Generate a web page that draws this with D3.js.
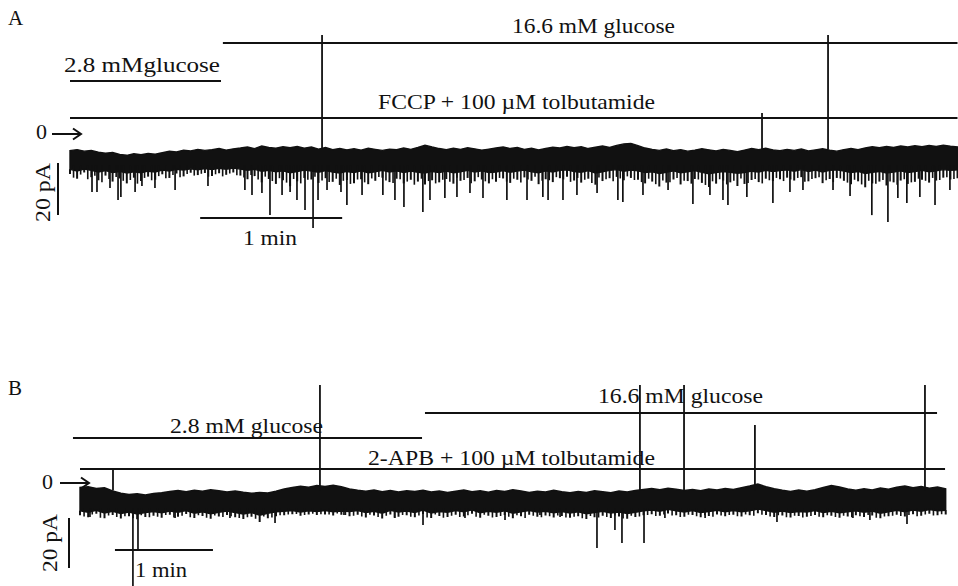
<!DOCTYPE html>
<html>
<head>
<meta charset="utf-8">
<script src="https://cdn.jsdelivr.net/npm/d3@7"></script>
<style>
  html, body { margin: 0; padding: 0; background: #fff; }
  svg { display: block; }
</style>
</head>
<body>
<svg id="fig" width="958" height="586"></svg>
<script>
// ---- Recording A: FCCP + 100 µM tolbutamide (sampled every 3 s) ----
const stepA = 3;
// upper edge of the current band (pA)
const topA = [
  -6.4,-6.0,-6.6,-6.3,-7.0,-7.4,-7.1,-7.9,-8.2,-7.6,
  -8.0,-7.5,-7.8,-7.2,-6.6,-6.9,-6.2,-6.5,-5.9,-6.3,
  -6.0,-5.6,-6.2,-5.7,-5.4,-5.0,-5.6,-4.6,-5.2,-5.5,
  -4.9,-5.3,-4.8,-5.5,-5.0,-5.8,-5.2,-6.0,-5.6,-6.1,
  -5.7,-6.2,-5.5,-5.9,-6.3,-5.8,-6.0,-5.4,-5.9,-5.2,
  -4.3,-5.0,-5.6,-6.0,-5.5,-5.9,-5.3,-5.7,-6.2,-5.8,
  -5.4,-5.0,-5.6,-5.2,-5.9,-5.5,-6.1,-5.6,-5.1,-5.4,
  -4.8,-5.3,-4.9,-5.6,-5.1,-4.6,-5.2,-4.4,-3.8,-3.6,
  -4.5,-5.4,-5.9,-6.3,-5.8,-6.4,-6.0,-6.6,-6.2,-5.7,
  -6.1,-6.5,-5.9,-6.3,-6.8,-6.2,-5.6,-6.0,-5.5,-6.1,
  -6.4,-5.9,-6.3,-5.8,-6.5,-6.1,-5.7,-6.2,-6.6,-6.0,
  -5.6,-6.0,-5.4,-4.9,-5.3,-4.8,-5.2,-4.6,-5.0,-4.5,
  -4.9,-4.4,-4.8,-4.3,-4.7,-5.0
];
// lower edge of the solid core of the band (pA)
const coreA = [
  -13.6,-14.2,-13.5,-14.0,-14.6,-14.1,-14.8,-14.4,-15.0,-14.5,
  -14.9,-14.3,-14.6,-13.9,-14.2,-13.6,-13.9,-13.4,-13.8,-13.3,
  -13.7,-13.2,-13.6,-13.1,-13.5,-14.0,-13.6,-14.3,-14.0,-14.5,
  -14.2,-14.9,-14.4,-13.9,-14.3,-14.7,-14.1,-14.6,-15.0,-14.4,
  -14.8,-14.2,-14.9,-14.5,-14.0,-14.6,-14.2,-14.8,-14.3,-14.7,
  -15.0,-14.4,-14.8,-14.3,-14.9,-14.5,-14.0,-14.6,-14.2,-14.8,
  -14.6,-14.1,-14.7,-14.3,-13.9,-14.5,-14.9,-14.2,-14.6,-14.0,
  -13.8,-14.4,-14.7,-14.1,-15.0,-14.5,-14.0,-13.7,-14.3,-13.9,
  -14.2,-14.8,-14.5,-15.2,-14.7,-14.2,-14.9,-14.5,-14.1,-14.7,
  -15.3,-14.8,-14.4,-14.7,-15.1,-14.8,-14.3,-14.6,-14.0,-14.4,
  -14.1,-13.8,-14.3,-13.7,-14.4,-13.9,-14.6,-14.0,-13.8,-14.3,
  -14.8,-14.4,-15.2,-14.7,-14.4,-15.0,-14.6,-14.2,-14.8,-14.4,
  -14.0,-14.5,-14.2,-13.7,-14.0,-13.8
];
// depth of the brief openings at each sample (pA)
const botA = [
  -15.4,-17.2,-14.8,-16.6,-17.8,-16.0,-18.3,-17.1,-19.0,-16.8,
  -18.1,-16.4,-17.6,-15.5,-16.9,-15.2,-16.3,-14.9,-15.8,-15.0,
  -16.2,-15.1,-15.7,-14.8,-16.0,-17.4,-16.2,-18.6,-17.3,-19.2,
  -17.8,-20.1,-18.2,-16.9,-17.5,-18.8,-17.0,-18.4,-19.6,-17.7,
  -18.9,-17.4,-19.3,-18.0,-16.8,-18.5,-17.2,-19.0,-17.6,-18.3,
  -19.4,-17.8,-18.6,-17.3,-19.1,-18.0,-16.9,-18.2,-17.5,-19.0,
  -18.4,-17.1,-18.8,-17.6,-16.7,-18.0,-19.3,-17.4,-18.5,-17.0,
  -16.4,-17.9,-18.7,-17.2,-19.5,-18.1,-17.0,-16.5,-17.8,-16.9,
  -17.6,-19.0,-18.3,-20.2,-18.7,-17.5,-19.4,-18.1,-17.3,-18.8,
  -20.4,-19.1,-17.9,-18.6,-20.0,-19.2,-17.7,-18.5,-17.2,-18.1,
  -17.4,-16.8,-17.9,-16.6,-18.2,-17.0,-18.9,-17.3,-16.9,-18.0,
  -19.3,-18.2,-20.5,-19.0,-18.3,-19.8,-18.6,-17.9,-19.2,-18.4,
  -17.6,-18.7,-17.9,-16.8,-17.5,-17.0
];
// depth of the openings half-way between samples (pA)
const midA = [
  -16.8,-15.6,-17.4,-16.1,-18.6,-17.3,-16.5,-18.0,-17.7,-19.1,
  -16.9,-17.8,-16.2,-17.0,-15.8,-16.6,-15.4,-16.0,-15.3,-16.4,
  -15.5,-16.3,-15.2,-15.9,-16.7,-15.8,-17.5,-16.4,-18.1,-17.0,
  -18.7,-17.3,-19.0,-17.6,-16.4,-17.9,-18.5,-17.2,-18.0,-19.2,
  -17.5,-18.6,-17.1,-16.5,-17.9,-18.8,-17.4,-18.3,-19.5,-17.2,
  -18.1,-19.0,-17.6,-18.4,-16.8,-17.7,-18.9,-16.6,-18.2,-17.4,
  -16.9,-18.3,-17.2,-18.7,-17.5,-16.4,-18.0,-17.8,-16.6,-17.5,
  -18.4,-16.9,-17.6,-18.8,-16.7,-17.4,-18.2,-17.1,-16.3,-17.7,
  -18.5,-17.2,-19.3,-17.9,-18.6,-16.9,-18.0,-19.1,-17.5,-19.6,
  -18.2,-17.4,-19.4,-18.0,-17.1,-18.8,-17.3,-19.0,-17.8,-16.9,
  -18.1,-17.5,-16.9,-18.4,-17.3,-16.6,-17.8,-18.5,-17.1,-18.7,
  -17.6,-19.4,-18.0,-19.1,-17.7,-18.3,-19.5,-17.4,-18.6,-17.2,
  -18.0,-16.9,-17.7,-16.6,-17.3
];
// larger openings reaching below the band: [time s, current pA]
const spikesA = [
  [9.3,-22.3],[11.4,-22.3],[16.9,-20.8],[20.3,-25.4],[21.5,-24.2],[27.5,-22.3],
  [30.4,-20.0],[35.9,-20.8],[44.4,-21.5],[58.3,-20.0],[73.9,-21.5],[76.9,-23.5],
  [81.1,-22.7],[84.5,-31.2],[89.6,-23.5],[93.0,-22.3],[95.9,-25.4],[99.3,-29.2],
  [102.7,-36.2],[104.8,-25.4],[108.6,-21.5],[114.5,-22.3],[117.0,-27.3],[123.4,-23.5],
  [132.2,-23.5],[137.3,-25.4],[141.1,-28.1],[149.1,-30.0],[152.1,-25.4],[158.4,-24.6],
  [163.5,-24.2],[169.0,-22.7],[174.5,-24.6],[184.6,-25.4],[193.1,-25.4],[199.8,-24.2],
  [202.0,-25.4],[208.3,-25.4],[214.2,-23.5],[222.7,-22.7],[231.5,-25.4],[233.6,-26.2],
  [242.1,-23.5],[252.7,-21.5],[263.2,-26.9],[270.4,-23.5],[275.9,-25.4],[278.0,-27.3],
  [286.0,-24.2],[297.0,-26.5],[304.2,-22.3],[309.7,-21.5],[322.4,-21.5],[329.6,-23.8],
  [338.8,-31.2],[345.6,-33.8],[349.8,-24.6],[353.6,-26.5],[359.1,-24.2],[365.5,-27.3],
  [371.8,-21.5]
];
// solution-change artifacts: [time s, peak pA]
const artifactsA = [[106.5, 38.1], [292.4, 8.1], [320.3, 38.1]];
// bath solutions: [label, start s, end s]
const solutionsA = [
  ["2.8 mMglucose", 0, 63.8],
  ["16.6 mM glucose", 64.6, 375],
  ["FCCP + 100 \u00b5M tolbutamide", 0, 375]
];

// ---- Recording B: 2-APB + 100 µM tolbutamide (sampled every 5 s) ----
const stepB = 5;
const topB = [
  -1.8,-1.5,-2.2,-1.9,-3.2,-4.1,-4.6,-4.3,-4.8,-4.2,
  -3.9,-3.4,-3.0,-3.5,-2.9,-3.3,-2.7,-3.1,-3.6,-3.2,
  -3.7,-4.1,-3.8,-4.0,-3.3,-2.4,-1.8,-1.3,-1.7,-1.0,
  -1.4,-0.9,-1.5,-2.4,-2.9,-3.3,-2.8,-3.5,-3.0,-3.6,
  -3.1,-3.4,-2.9,-3.6,-3.2,-3.8,-3.3,-2.8,-3.5,-3.1,
  -3.7,-3.0,-3.4,-2.7,-3.2,-3.8,-3.3,-3.6,-2.9,-3.5,
  -3.9,-3.4,-3.8,-3.1,-3.5,-3.9,-3.2,-3.6,-3.0,-2.6,
  -2.2,-2.7,-2.1,-2.5,-3.0,-2.6,-3.1,-2.4,-2.8,-2.2,
  -2.6,-1.9,-1.2,-0.4,-1.5,-2.3,-2.9,-3.4,-2.8,-3.3,
  -2.7,-1.8,-1.0,-1.6,-2.4,-2.9,-2.3,-2.8,-2.0,-2.5,
  -1.7,-1.2,-1.9,-1.4,-2.1,-1.6,-2.3
];
const coreB = [
  -11.1,-11.7,-10.9,-12.0,-11.3,-12.2,-11.6,-12.4,-11.8,-11.4,
  -11.9,-11.2,-11.7,-11.0,-12.1,-11.5,-12.3,-11.7,-11.2,-11.8,
  -12.4,-11.8,-12.9,-12.1,-11.5,-11.3,-11.0,-11.6,-11.1,-11.4,
  -11.0,-11.5,-11.2,-11.4,-11.0,-11.8,-11.3,-12.1,-10.9,-11.6,
  -11.2,-11.8,-10.8,-12.0,-11.4,-11.7,-11.0,-11.5,-10.7,-11.9,
  -11.3,-11.7,-11.1,-12.1,-11.5,-11.0,-11.6,-11.3,-11.9,-11.4,
  -12.0,-11.5,-12.3,-11.8,-11.3,-12.0,-11.6,-12.2,-11.7,-11.1,
  -10.8,-11.3,-10.5,-11.1,-11.6,-11.0,-11.8,-11.4,-10.9,-11.5,
  -11.0,-11.5,-11.1,-10.4,-11.0,-11.7,-11.2,-11.8,-11.4,-11.6,
  -11.0,-11.8,-11.3,-11.9,-11.5,-11.1,-11.7,-11.2,-12.1,-11.5,
  -10.9,-11.5,-10.8,-11.3,-10.6,-11.1,-10.9
];
const botB = [
  -12.9,-13.7,-12.3,-14.1,-12.8,-14.2,-13.3,-14.5,-13.6,-13.1,
  -13.9,-12.7,-13.5,-12.4,-14.0,-13.2,-14.3,-13.4,-12.8,-13.7,
  -14.4,-13.5,-15.6,-14.1,-13.3,-12.9,-12.5,-13.1,-12.6,-12.8,
  -12.6,-13.0,-12.7,-13.3,-12.7,-13.8,-13.0,-14.2,-12.6,-13.5,
  -12.9,-13.7,-12.4,-14.0,-13.2,-13.6,-12.7,-13.4,-12.3,-13.9,
  -13.1,-13.6,-12.8,-14.1,-13.3,-12.7,-13.5,-13.0,-13.8,-13.2,
  -13.9,-13.3,-14.4,-13.7,-13.1,-14.0,-13.4,-14.3,-13.6,-12.9,
  -12.5,-13.1,-12.2,-12.9,-13.5,-12.8,-13.7,-13.2,-12.6,-13.3,
  -12.7,-13.4,-12.9,-12.1,-12.8,-13.6,-13.0,-13.8,-13.2,-13.5,
  -12.8,-13.7,-13.1,-13.9,-13.4,-12.9,-13.6,-13.0,-14.1,-13.3,
  -12.7,-13.4,-12.5,-13.1,-12.3,-12.9,-12.6
];
const midB = [
  -13.4,-12.6,-13.9,-13.0,-13.6,-13.3,-14.1,-12.9,-13.7,-13.5,
  -12.8,-13.8,-13.1,-13.7,-12.9,-13.9,-13.0,-13.6,-13.3,-14.0,
  -13.7,-14.3,-13.4,-13.8,-12.9,-12.6,-12.4,-12.8,-12.3,-12.5,
  -12.6,-12.2,-12.8,-13.1,-13.4,-12.7,-13.6,-13.1,-13.9,-12.8,
  -13.5,-13.0,-13.8,-12.6,-13.9,-13.1,-13.6,-12.9,-13.5,-12.7,
  -13.8,-13.2,-13.5,-12.9,-14.0,-13.1,-13.7,-13.3,-13.0,-13.8,
  -13.5,-14.1,-13.2,-13.8,-13.6,-13.0,-14.2,-13.1,-13.4,-12.8,
  -13.2,-12.6,-13.0,-13.6,-12.7,-13.3,-12.9,-13.5,-13.0,-12.8,
  -13.3,-12.6,-13.1,-12.7,-13.4,-12.9,-13.7,-13.1,-13.8,-13.2,
  -13.5,-12.9,-13.6,-13.1,-13.7,-13.3,-12.8,-13.9,-13.4,-13.1,
  -13.2,-12.8,-13.3,-12.6,-13.0,-12.5
];
const spikesB = [
  [6.1,-13.6],[32.4,-41.2],[35.5,-26.8],[58.2,-14.0],[91.8,-14.0],[119.4,-16.0],
  [161.6,-12.8],[192.8,-14.0],[210.0,-16.8],[235.7,-14.0],[260.2,-14.8],[281.6,-12.8],
  [293.9,-13.6],[316.5,-26.0],[327.5,-18.8],[331.8,-24.0],[345.3,-24.0],[358.1,-14.0],
  [382.7,-14.0],[426.7,-15.6],[473.2,-14.0],[483.6,-14.8],[506.3,-16.4]
];
const artifactsB = [[20.2, 5.6], [146.9, 39.2], [342.8, 39.2], [369.8, 39.2], [413.2, 23.2], [517.3, 39.2]];
const solutionsB = [
  ["2.8 mM glucose", -4.3, 209.4],
  ["16.6 mM glucose", 211.2, 524.7],
  ["2-APB + 100 \u00b5M tolbutamide", 0, 529.6]
];

// scale bars
const timeBar = ["1 min", 60];     // seconds
const currentBar = ["20 pA", 20];  // pA

// ---- layout of the two panels ----
const panels = [
  {
    letter: "A", letterPos: [8, 25],
    step: stepA, top: topA, core: coreA, bot: botA, mid: midA,
    spikes: spikesA, artifacts: artifactsA, solutions: solutionsA,
    xDomain: [0, 375], xRange: [70, 957.5],
    yZero: 134, pxPerPA: 2.6,
    spikeFrom: -12, artifactTo: -6,
    solY: [81, 43, 118],
    solText: [[64, 72, 156], [512, 33, 163], [378, 109, 277]],
    zero: [36, 139], arrow: [52, 81],
    timeBarStart: 55, timeBarY: 218, timeText: [243, 245, 54],
    currentBarX: 58, currentBarTop: -11.2, currentText: [50, 222, 59]
  },
  {
    letter: "B", letterPos: [8, 395],
    step: stepB, top: topB, core: coreB, bot: botB, mid: midB,
    spikes: spikesB, artifacts: artifactsB, solutions: solutionsB,
    xDomain: [0, 530], xRange: [80, 945.7],
    yZero: 483, pxPerPA: 2.5,
    spikeFrom: -10, artifactTo: -3,
    solY: [438, 413, 469],
    solText: [[170, 433, 153], [598, 403, 165], [368, 465, 287]],
    zero: [42, 489], arrow: [60, 89],
    timeBarStart: 21.4, timeBarY: 550, timeText: [135, 577, 52],
    currentBarX: 69, currentBarTop: -14, currentText: [57, 572, 58]
  }
];

const svg = d3.select("#fig");
const ink = "#111";
const fontSize = 22;
const serif = '"Liberation Serif", "Times New Roman", serif';

function label(g, str, size) {
  return g.append("text").style("font-family", serif)
    .attr("font-size", size).attr("fill", ink).text(str);
}
function fitText(sel, w) {
  sel.attr("textLength", w).attr("lengthAdjust", "spacingAndGlyphs");
}

panels.forEach(p => {
  const g = svg.append("g");
  const x = d3.scaleLinear().domain(p.xDomain).range(p.xRange);
  const y = d3.scaleLinear().domain([0, -20])
    .range([p.yZero, p.yZero + 20 * p.pxPerPA]);

  // panel letter
  label(g, p.letter, 21).attr("x", p.letterPos[0]).attr("y", p.letterPos[1]);

  // bath solution bars and their labels
  p.solutions.forEach((s, i) => {
    g.append("line")
      .attr("x1", x(s[1])).attr("x2", x(s[2]))
      .attr("y1", p.solY[i]).attr("y2", p.solY[i])
      .attr("stroke", ink).attr("stroke-width", 2);
    const tx = label(g, s[0], fontSize)
      .attr("x", p.solText[i][0]).attr("y", p.solText[i][1]);
    fitText(tx, p.solText[i][2]);
  });

  // solid core of the current band
  const band = d3.area()
    .x((d, i) => x(i * p.step))
    .y0((d, i) => y(p.top[i]))
    .y1((d, i) => y(p.core[i]))
    .curve(d3.curveLinear);
  g.append("path").datum(p.top).attr("d", band)
    .attr("fill", ink).attr("stroke", ink).attr("stroke-width", 1.4);

  // brief openings hanging from the core, at and between samples
  g.selectAll(null).data(p.bot).join("line")
    .attr("x1", (d, i) => x(i * p.step)).attr("x2", (d, i) => x(i * p.step))
    .attr("y1", (d, i) => y(p.core[i])).attr("y2", d => y(d))
    .attr("stroke", ink).attr("stroke-width", 2);
  g.selectAll(null).data(p.mid).join("line")
    .attr("x1", (d, i) => x((i + 0.5) * p.step)).attr("x2", (d, i) => x((i + 0.5) * p.step))
    .attr("y1", y(p.spikeFrom)).attr("y2", d => y(d))
    .attr("stroke", ink).attr("stroke-width", 1.6);

  // larger openings below the band
  g.selectAll(null).data(p.spikes).join("line")
    .attr("x1", d => x(d[0])).attr("x2", d => x(d[0]))
    .attr("y1", y(p.spikeFrom)).attr("y2", d => y(d[1]))
    .attr("stroke", ink).attr("stroke-width", 1.7);

  // solution-exchange artifacts
  g.selectAll(null).data(p.artifacts).join("line")
    .attr("x1", d => x(d[0])).attr("x2", d => x(d[0]))
    .attr("y1", d => y(d[1])).attr("y2", y(p.artifactTo))
    .attr("stroke", ink).attr("stroke-width", 1.8);

  // zero-current marker
  label(g, "0", fontSize).attr("x", p.zero[0]).attr("y", p.zero[1]);
  const y0 = y(0);
  g.append("path")
    .attr("d", `M${p.arrow[0]},${y0}H${p.arrow[1]}M${p.arrow[1] - 8},${y0 - 5.5}L${p.arrow[1]},${y0}L${p.arrow[1] - 8},${y0 + 5.5}`)
    .attr("fill", "none").attr("stroke", ink).attr("stroke-width", 2);

  // time scale bar
  g.append("line")
    .attr("x1", x(p.timeBarStart)).attr("x2", x(p.timeBarStart + timeBar[1]))
    .attr("y1", p.timeBarY).attr("y2", p.timeBarY)
    .attr("stroke", ink).attr("stroke-width", 2);
  const tt = label(g, timeBar[0], fontSize)
    .attr("x", p.timeText[0]).attr("y", p.timeText[1]);
  fitText(tt, p.timeText[2]);

  // current scale bar
  g.append("line")
    .attr("x1", p.currentBarX).attr("x2", p.currentBarX)
    .attr("y1", y(p.currentBarTop)).attr("y2", y(p.currentBarTop - currentBar[1]))
    .attr("stroke", ink).attr("stroke-width", 2);
  const ct = label(g, currentBar[0], fontSize)
    .attr("transform", `translate(${p.currentText[0]},${p.currentText[1]}) rotate(-90)`);
  fitText(ct, p.currentText[2]);
});
</script>
</body>
</html>
